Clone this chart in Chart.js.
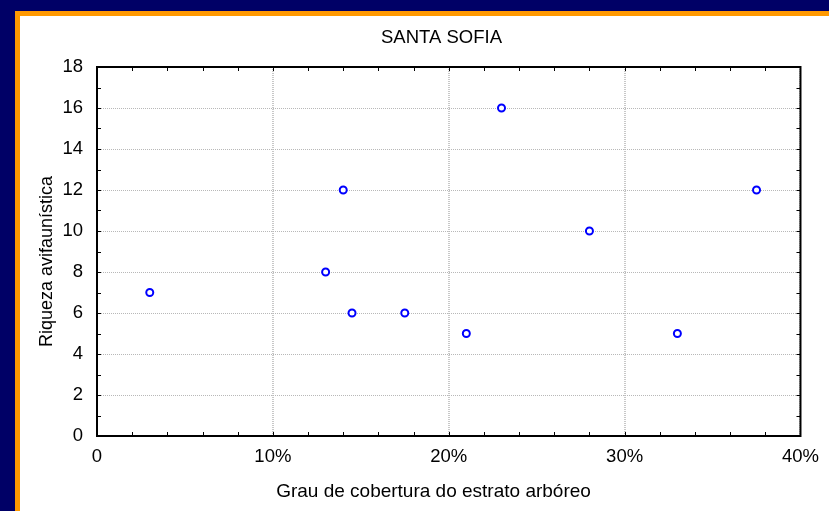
<!DOCTYPE html>
<html>
<head>
<meta charset="utf-8">
<script src="https://cdn.jsdelivr.net/npm/chart.js@4/dist/chart.umd.min.js"></script>
<style>
  html, body { margin: 0; padding: 0; width: 829px; height: 511px; overflow: hidden; background: #000066; }
  #outer { position: absolute; left: 15px; top: 11px; width: 814px; height: 500px; background: #ff9900; }
  #inner { position: absolute; left: 5px; top: 5px; width: 809px; height: 495px; background: #fff; }
</style>
</head>
<body>
<div id="outer"><div id="inner"><canvas id="chart" width="809" height="495"></canvas></div></div>
<script>
// cobertura arbórea (%) e riqueza avifaunística
const cobertura = [3, 13, 14, 14.5, 17.5, 21, 23, 28, 33, 37.5];
const riqueza = [7, 8, 12, 6, 6, 5, 16, 10, 5, 12];
const xTickLabels = ['0', '10%', '20%', '30%', '40%'];

const chartTitle = 'SANTA SOFIA';
const xTitle = 'Grau de cobertura do estrato arbóreo';
const yTitle = 'Riqueza avifaunística';

const points = cobertura.map((v, i) => ({ x: v, y: riqueza[i] }));
const FONT = 'Liberation Sans, Arial, sans-serif';

// frame, inward ticks (major and minor) on all four sides, and the titles
const frameTicks = {
    id: 'frameTicks',
    afterDraw(chart) {
        const ctx = chart.ctx;
        const a = chart.chartArea;
        const xs = chart.scales.x, ys = chart.scales.y;
        ctx.save();
        ctx.strokeStyle = '#000';
        ctx.lineWidth = 1;
        ctx.beginPath();
        for (let v = 0; v <= 40; v += 2) {
            const px = Math.round(xs.getPixelForValue(v)) + 0.5;
            ctx.moveTo(px, a.bottom); ctx.lineTo(px, a.bottom - 4);
            ctx.moveTo(px, a.top); ctx.lineTo(px, a.top + 4);
        }
        for (let v = 0; v <= 18; v += 1) {
            const py = Math.round(ys.getPixelForValue(v)) + 0.5;
            ctx.moveTo(a.left, py); ctx.lineTo(a.left + 4, py);
            ctx.moveTo(a.right, py); ctx.lineTo(a.right - 4, py);
        }
        ctx.stroke();
        ctx.lineWidth = 2;
        ctx.strokeRect(a.left, a.top, a.right - a.left, a.bottom - a.top);

        ctx.fillStyle = '#000';
        ctx.textAlign = 'center';
        ctx.textBaseline = 'alphabetic';
        ctx.font = '18.5px ' + FONT;
        ctx.fillText(chartTitle, 421.5, 27);
        ctx.font = '19px ' + FONT;
        ctx.fillText(xTitle, 413.5, 481);
        ctx.font = '18px ' + FONT;
        ctx.translate(32, 245.5);
        ctx.rotate(-Math.PI / 2);
        ctx.fillText(yTitle, 0, 0);
        ctx.restore();
    }
};

new Chart(document.getElementById('chart').getContext('2d'), {
    type: 'scatter',
    data: {
        datasets: [{
            label: chartTitle,
            data: points,
            pointRadius: 3.5,
            pointBorderWidth: 2,
            borderColor: '#0000ff',
            backgroundColor: '#ffffff'
        }]
    },
    options: {
        responsive: false,
        animation: false,
        layout: { padding: { left: 0, right: 28, top: 51, bottom: 0 } },
        plugins: {
            legend: { display: false },
            tooltip: { enabled: false }
        },
        scales: {
            x: {
                min: 0, max: 40,
                afterFit: s => { s.height = 75; },
                ticks: {
                    stepSize: 10,
                    padding: 10,
                    color: '#000',
                    font: { family: FONT, size: 18.5 },
                    callback: (v, i) => xTickLabels[i]
                },
                grid: { color: '#c8c8c8', lineWidth: 2, drawTicks: false },
                border: { display: false, dash: [1, 1] }
            },
            y: {
                min: 0, max: 18,
                afterFit: s => { s.width = 77; },
                ticks: {
                    stepSize: 2,
                    padding: 14,
                    color: '#000',
                    font: { family: FONT, size: 18.5 }
                },
                grid: { color: '#b8b8b8', lineWidth: 1, drawTicks: false },
                border: { display: false, dash: [1, 1] }
            }
        }
    },
    plugins: [frameTicks]
});
</script>
</body>
</html>
